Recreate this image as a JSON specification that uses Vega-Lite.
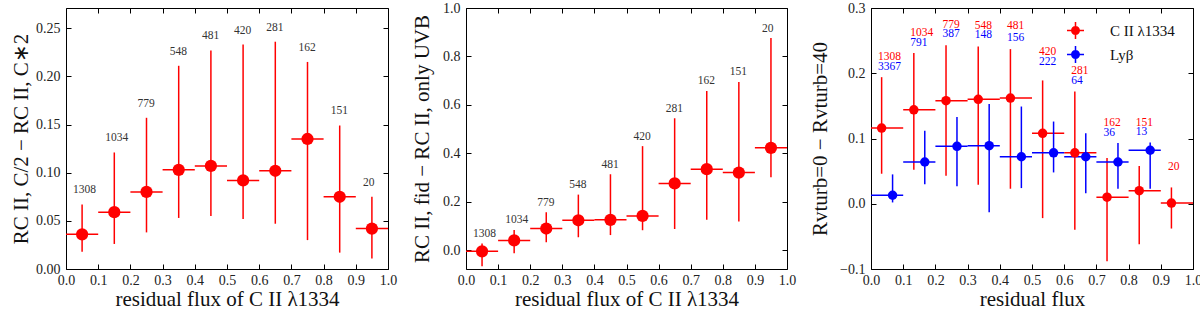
{
  "$schema": "https://vega.github.io/schema/vega-lite/v6.json",
  "padding": {"left": 10, "top": 0, "right": 0, "bottom": 2},
  "spacing": 12,
  "config": {
    "font": "Liberation Serif",
    "view": {"stroke": "#000", "strokeWidth": 1},
    "axis": {"domain": false, "grid": false, "tickSize": -5, "tickColor": "#000", "tickWidth": 1, "labelFontSize": 14, "labelColor": "#222", "labelFont": "Liberation Serif", "titleFont": "Liberation Serif", "titleFontSize": 21, "titleFontWeight": "normal", "titleColor": "#111", "labelPadding": 11, "labelFlush": false, "labelOverlap": false, "titlePadding": 4},
    "axisX": {"titlePadding": 1, "labelPadding": 9}
  },
  "datasets": {
    "p1": [
      {"x": 0.05, "xlo": 0.0, "xhi": 0.1, "y": 0.036, "ylo": 0.018, "yhi": 0.067, "n": 1308},
      {"x": 0.15, "xlo": 0.1, "xhi": 0.2, "y": 0.059, "ylo": 0.026, "yhi": 0.121, "n": 1034},
      {"x": 0.25, "xlo": 0.2, "xhi": 0.3, "y": 0.080, "ylo": 0.038, "yhi": 0.157, "n": 779},
      {"x": 0.35, "xlo": 0.3, "xhi": 0.4, "y": 0.103, "ylo": 0.053, "yhi": 0.211, "n": 548},
      {"x": 0.45, "xlo": 0.4, "xhi": 0.5, "y": 0.107, "ylo": 0.055, "yhi": 0.227, "n": 481},
      {"x": 0.55, "xlo": 0.5, "xhi": 0.6, "y": 0.092, "ylo": 0.052, "yhi": 0.233, "n": 420},
      {"x": 0.65, "xlo": 0.6, "xhi": 0.7, "y": 0.102, "ylo": 0.047, "yhi": 0.236, "n": 281},
      {"x": 0.75, "xlo": 0.7, "xhi": 0.8, "y": 0.135, "ylo": 0.030, "yhi": 0.215, "n": 162},
      {"x": 0.85, "xlo": 0.8, "xhi": 0.9, "y": 0.075, "ylo": 0.017, "yhi": 0.149, "n": 151},
      {"x": 0.95, "xlo": 0.9, "xhi": 1.0, "y": 0.042, "ylo": 0.011, "yhi": 0.075, "n": 20}
    ],
    "p2": [
      {"x": 0.05, "xlo": 0.0, "xhi": 0.1, "y": -0.004, "ylo": -0.066, "yhi": 0.028, "n": 1308},
      {"x": 0.15, "xlo": 0.1, "xhi": 0.2, "y": 0.041, "ylo": -0.012, "yhi": 0.084, "n": 1034},
      {"x": 0.25, "xlo": 0.2, "xhi": 0.3, "y": 0.090, "ylo": 0.033, "yhi": 0.157, "n": 779},
      {"x": 0.35, "xlo": 0.3, "xhi": 0.4, "y": 0.124, "ylo": 0.054, "yhi": 0.230, "n": 548},
      {"x": 0.45, "xlo": 0.4, "xhi": 0.5, "y": 0.126, "ylo": 0.063, "yhi": 0.314, "n": 481},
      {"x": 0.55, "xlo": 0.5, "xhi": 0.6, "y": 0.142, "ylo": 0.083, "yhi": 0.430, "n": 420},
      {"x": 0.65, "xlo": 0.6, "xhi": 0.7, "y": 0.276, "ylo": 0.088, "yhi": 0.545, "n": 281},
      {"x": 0.75, "xlo": 0.7, "xhi": 0.8, "y": 0.335, "ylo": 0.126, "yhi": 0.658, "n": 162},
      {"x": 0.85, "xlo": 0.8, "xhi": 0.9, "y": 0.321, "ylo": 0.119, "yhi": 0.695, "n": 151},
      {"x": 0.95, "xlo": 0.9, "xhi": 1.0, "y": 0.423, "ylo": 0.302, "yhi": 0.876, "n": 20}
    ],
    "p3": [
      {"s": "C II λ1334", "x": 0.033, "xc": 0.05, "xlo": 0.0, "xhi": 0.1, "y": 0.116, "ylo": 0.046, "yhi": 0.194, "n": 1308, "ly": 0.225},
      {"s": "C II λ1334", "x": 0.133, "xc": 0.15, "xlo": 0.1, "xhi": 0.2, "y": 0.144, "ylo": 0.052, "yhi": 0.231, "n": 1034, "ly": 0.261},
      {"s": "C II λ1334", "x": 0.233, "xc": 0.25, "xlo": 0.2, "xhi": 0.3, "y": 0.158, "ylo": 0.043, "yhi": 0.243, "n": 779, "ly": 0.274},
      {"s": "C II λ1334", "x": 0.333, "xc": 0.35, "xlo": 0.3, "xhi": 0.4, "y": 0.160, "ylo": 0.029, "yhi": 0.241, "n": 548, "ly": 0.273},
      {"s": "C II λ1334", "x": 0.433, "xc": 0.45, "xlo": 0.4, "xhi": 0.5, "y": 0.162, "ylo": 0.023, "yhi": 0.237, "n": 481, "ly": 0.272},
      {"s": "C II λ1334", "x": 0.533, "xc": 0.55, "xlo": 0.5, "xhi": 0.6, "y": 0.108, "ylo": -0.022, "yhi": 0.189, "n": 420, "ly": 0.232},
      {"s": "C II λ1334", "x": 0.633, "xc": 0.65, "xlo": 0.6, "xhi": 0.7, "y": 0.078, "ylo": -0.040, "yhi": 0.172, "n": 281, "ly": 0.203},
      {"s": "C II λ1334", "x": 0.733, "xc": 0.75, "xlo": 0.7, "xhi": 0.8, "y": 0.010, "ylo": -0.088, "yhi": 0.070, "n": 162, "ly": 0.1235},
      {"s": "C II λ1334", "x": 0.833, "xc": 0.85, "xlo": 0.8, "xhi": 0.9, "y": 0.020, "ylo": -0.062, "yhi": 0.058, "n": 151, "ly": 0.124},
      {"s": "C II λ1334", "x": 0.933, "xc": 0.95, "xlo": 0.9, "xhi": 1.0, "y": 0.001, "ylo": -0.038, "yhi": 0.025, "n": 20, "ly": 0.057},
      {"s": "Lyβ", "x": 0.067, "xc": 0.05, "xlo": 0.0, "xhi": 0.1, "y": 0.013, "ylo": 0.002, "yhi": 0.045, "n": 3367, "ly": 0.210},
      {"s": "Lyβ", "x": 0.167, "xc": 0.15, "xlo": 0.1, "xhi": 0.2, "y": 0.064, "ylo": 0.030, "yhi": 0.112, "n": 791, "ly": 0.246},
      {"s": "Lyβ", "x": 0.267, "xc": 0.25, "xlo": 0.2, "xhi": 0.3, "y": 0.088, "ylo": 0.027, "yhi": 0.133, "n": 387, "ly": 0.2596},
      {"s": "Lyβ", "x": 0.367, "xc": 0.35, "xlo": 0.3, "xhi": 0.4, "y": 0.089, "ylo": -0.013, "yhi": 0.153, "n": 148, "ly": 0.2586},
      {"s": "Lyβ", "x": 0.467, "xc": 0.45, "xlo": 0.4, "xhi": 0.5, "y": 0.072, "ylo": 0.024, "yhi": 0.149, "n": 156, "ly": 0.2535},
      {"s": "Lyβ", "x": 0.567, "xc": 0.55, "xlo": 0.5, "xhi": 0.6, "y": 0.078, "ylo": 0.048, "yhi": 0.126, "n": 222, "ly": 0.218},
      {"s": "Lyβ", "x": 0.667, "xc": 0.65, "xlo": 0.6, "xhi": 0.7, "y": 0.072, "ylo": 0.016, "yhi": 0.108, "n": 64, "ly": 0.188},
      {"s": "Lyβ", "x": 0.767, "xc": 0.75, "xlo": 0.7, "xhi": 0.8, "y": 0.064, "ylo": 0.023, "yhi": 0.093, "n": 36, "ly": 0.1087},
      {"s": "Lyβ", "x": 0.867, "xc": 0.85, "xlo": 0.8, "xhi": 0.9, "y": 0.082, "ylo": 0.023, "yhi": 0.094, "n": 13, "ly": 0.110}
    ]
  },
  "hconcat": [
    {
      "width": 322, "height": 261,
      "data": {"name": "p1"},
      "resolve": {"axis": {"x": "independent", "y": "independent"}},
      "layer": [
        {"mark": {"type": "rule", "color": "#ff0000", "strokeWidth": 1.5},
         "encoding": {
           "x": {"field": "xlo", "type": "quantitative", "scale": {"domain": [0, 1], "nice": false, "zero": false}, "axis": {"orient": "bottom", "values": [0, 0.1, 0.2, 0.3, 0.4, 0.5, 0.6, 0.7, 0.8, 0.9, 1.0], "format": ".1f", "title": "residual flux of C II λ1334"}},
           "x2": {"field": "xhi"},
           "y": {"field": "y", "type": "quantitative", "scale": {"domain": [0, 0.271], "nice": false, "zero": false}, "axis": {"orient": "left", "values": [0, 0.05, 0.1, 0.15, 0.2, 0.25], "format": ".2f", "title": "RC II, C/2 − RC II, C∗2", "titlePadding": 4}}
         }},
        {"mark": {"type": "rule", "color": "#ff0000", "strokeWidth": 1.5},
         "encoding": {
           "x": {"field": "x", "type": "quantitative", "axis": {"orient": "top", "values": [0, 0.1, 0.2, 0.3, 0.4, 0.5, 0.6, 0.7, 0.8, 0.9, 1.0], "labels": false, "title": null}},
           "y": {"field": "ylo", "type": "quantitative", "axis": {"orient": "right", "values": [0, 0.05, 0.1, 0.15, 0.2, 0.25], "labels": false, "title": null}},
           "y2": {"field": "yhi"}
         }},
        {"mark": {"type": "circle", "color": "#ff0000", "size": 150, "opacity": 1},
         "encoding": {
           "x": {"field": "x", "type": "quantitative", "axis": null},
           "y": {"field": "y", "type": "quantitative", "axis": null}
         }},
        {"mark": {"type": "text", "align": "left", "baseline": "middle", "dx": -9, "dy": -14, "fontSize": 11.5, "color": "#333"},
         "encoding": {
           "x": {"field": "x", "type": "quantitative", "axis": null},
           "y": {"field": "yhi", "type": "quantitative", "axis": null},
           "text": {"field": "n", "type": "nominal"}
         }}
      ]
    },
    {
      "width": 321, "height": 261,
      "data": {"name": "p2"},
      "resolve": {"axis": {"x": "independent", "y": "independent"}},
      "layer": [
        {"mark": {"type": "rule", "color": "#ff0000", "strokeWidth": 1.5},
         "encoding": {
           "x": {"field": "xlo", "type": "quantitative", "scale": {"domain": [0, 1], "nice": false, "zero": false}, "axis": {"orient": "bottom", "values": [0, 0.1, 0.2, 0.3, 0.4, 0.5, 0.6, 0.7, 0.8, 0.9, 1.0], "format": ".1f", "title": "residual flux of C II λ1334"}},
           "x2": {"field": "xhi"},
           "y": {"field": "y", "type": "quantitative", "scale": {"domain": [-0.077, 1.0], "nice": false, "zero": false}, "axis": {"orient": "left", "values": [0, 0.2, 0.4, 0.6, 0.8, 1.0], "format": ".1f", "title": "RC II, fid − RC II, only UVB", "titlePadding": 10}}
         }},
        {"mark": {"type": "rule", "color": "#ff0000", "strokeWidth": 1.5},
         "encoding": {
           "x": {"field": "x", "type": "quantitative", "axis": {"orient": "top", "values": [0, 0.1, 0.2, 0.3, 0.4, 0.5, 0.6, 0.7, 0.8, 0.9, 1.0], "labels": false, "title": null}},
           "y": {"field": "ylo", "type": "quantitative", "axis": {"orient": "right", "values": [0, 0.2, 0.4, 0.6, 0.8, 1.0], "labels": false, "title": null}},
           "y2": {"field": "yhi"}
         }},
        {"mark": {"type": "circle", "color": "#ff0000", "size": 150, "opacity": 1},
         "encoding": {
           "x": {"field": "x", "type": "quantitative", "axis": null},
           "y": {"field": "y", "type": "quantitative", "axis": null}
         }},
        {"mark": {"type": "text", "align": "left", "baseline": "middle", "dx": -9, "dy": -9.5, "fontSize": 11.5, "color": "#333"},
         "encoding": {
           "x": {"field": "x", "type": "quantitative", "axis": null},
           "y": {"field": "yhi", "type": "quantitative", "axis": null},
           "text": {"field": "n", "type": "nominal"}
         }}
      ]
    },
    {
      "width": 322, "height": 261,
      "data": {"name": "p3"},
      "resolve": {"axis": {"x": "independent", "y": "independent"}},
      "layer": [
        {"transform": [{"filter": "datum.s === 'C II λ1334'"}],
         "mark": {"type": "rule", "color": "#ff0000", "strokeWidth": 1.5},
         "encoding": {
           "x": {"field": "xlo", "type": "quantitative", "scale": {"domain": [0, 1], "nice": false, "zero": false}, "axis": {"orient": "bottom", "values": [0, 0.1, 0.2, 0.3, 0.4, 0.5, 0.6, 0.7, 0.8, 0.9, 1.0], "format": ".1f", "title": "residual flux"}},
           "x2": {"field": "xhi"},
           "y": {"field": "y", "type": "quantitative", "scale": {"domain": [-0.1, 0.3], "nice": false, "zero": false}, "axis": {"orient": "left", "values": [-0.1, 0, 0.1, 0.2, 0.3], "format": ".1f", "title": "Rvturb=0 − Rvturb=40", "titlePadding": 9}}
         }},
        {"transform": [{"filter": "datum.s === 'C II λ1334'"}],
         "mark": {"type": "rule", "color": "#ff0000", "strokeWidth": 1.5},
         "encoding": {
           "x": {"field": "x", "type": "quantitative", "axis": {"orient": "top", "values": [0, 0.1, 0.2, 0.3, 0.4, 0.5, 0.6, 0.7, 0.8, 0.9, 1.0], "labels": false, "title": null}},
           "y": {"field": "ylo", "type": "quantitative", "axis": {"orient": "right", "values": [-0.1, 0, 0.1, 0.2, 0.3], "labels": false, "title": null}},
           "y2": {"field": "yhi"}
         }},
        {"transform": [{"filter": "datum.s === 'Lyβ'"}],
         "mark": {"type": "rule", "color": "#0000ff", "strokeWidth": 1.5},
         "encoding": {
           "x": {"field": "xlo", "type": "quantitative", "axis": null},
           "x2": {"field": "xhi"},
           "y": {"field": "y", "type": "quantitative", "axis": null}
         }},
        {"transform": [{"filter": "datum.s === 'Lyβ'"}],
         "mark": {"type": "rule", "color": "#0000ff", "strokeWidth": 1.5},
         "encoding": {
           "x": {"field": "x", "type": "quantitative", "axis": null},
           "y": {"field": "ylo", "type": "quantitative", "axis": null},
           "y2": {"field": "yhi"}
         }},
        {"mark": {"type": "circle", "size": 90, "opacity": 1},
         "encoding": {
           "x": {"field": "x", "type": "quantitative", "axis": null},
           "y": {"field": "y", "type": "quantitative", "axis": null},
           "color": {"field": "s", "type": "nominal", "scale": {"domain": ["C II λ1334", "Lyβ"], "range": ["#ff0000", "#0000ff"]},
             "legend": {"orient": "none", "legendX": 1000, "legendY": 13, "title": null, "padding": 0, "labelFontSize": 15, "labelFont": "Liberation Serif", "labelColor": "#111", "symbolType": "M-1,-0.09L1,-0.09L1,0.09L-1,0.09ZM-0.09,-1L0.09,-1L0.09,1L-0.09,1ZM0.53,0A0.53,0.53,0,1,1,-0.53,0A0.53,0.53,0,1,1,0.53,0Z", "symbolSize": 289, "symbolOpacity": 1, "rowPadding": 6, "labelOffset": 25}}
         }},
        {"transform": [{"filter": "datum.s === 'C II λ1334'"}],
         "mark": {"type": "text", "align": "left", "baseline": "middle", "dx": -9, "fontSize": 11.5, "color": "#ff0000"},
         "encoding": {
           "x": {"field": "xc", "type": "quantitative", "axis": null},
           "y": {"field": "ly", "type": "quantitative", "axis": null},
           "text": {"field": "n", "type": "nominal"}
         }},
        {"transform": [{"filter": "datum.s === 'Lyβ'"}],
         "mark": {"type": "text", "align": "left", "baseline": "middle", "dx": -9, "fontSize": 11.5, "color": "#0000ff"},
         "encoding": {
           "x": {"field": "xc", "type": "quantitative", "axis": null},
           "y": {"field": "ly", "type": "quantitative", "axis": null},
           "text": {"field": "n", "type": "nominal"}
         }}
      ]
    }
  ]
}
